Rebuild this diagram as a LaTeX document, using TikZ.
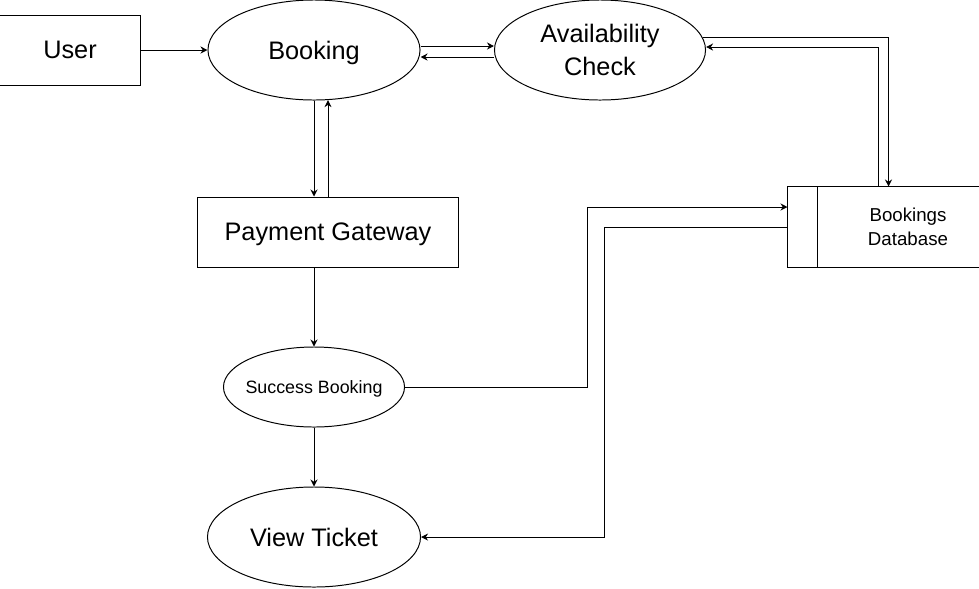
\documentclass[tikz,border=0pt]{standalone}
\usepackage{fontspec}
\setmainfont{Liberation Sans}
\usetikzlibrary{shapes.geometric,arrows.meta}

\begin{document}
\begin{tikzpicture}[x=0.025cm,y=-0.025cm,line width=0.7pt,->,>={Stealth[length=5pt,width=5pt]}]
  \tikzstyle{entity}=[rectangle,draw,inner sep=0pt,text depth=0pt,font=\fontsize{18}{23.5}\selectfont]
  \tikzstyle{process}=[ellipse,draw,inner sep=0pt,text depth=0pt,align=center,font=\fontsize{18}{23.5}\selectfont]
  \useasboundingbox (0,0) rectangle (979,588);

  \node[entity,minimum width=3.5cm,minimum height=1.75cm] (N_user) at (70,50) {User};
  \node[process,minimum width=5.3cm,minimum height=2.5cm] (N_booking) at (314,50) {Booking};
  \node[process,minimum width=5.275cm,minimum height=2.5cm] (N_avail) at (600,50) {Availability\\Check};
  \node[entity,minimum width=6.5cm,minimum height=1.75cm] (N_pay) at (328,232) {Payment Gateway};
  \node[process,inner xsep=-4pt,minimum width=4.525cm,minimum height=2cm,font=\fontsize{12.7}{15}\selectfont] (N_success) at (314,387) {Success Booking};
  \node[process,minimum width=5.325cm,minimum height=2.5cm] (N_view) at (314,537) {View Ticket};
  \node[rectangle,inner sep=0pt,minimum width=4.775cm,minimum height=2cm] (N_db) at (883.5,227) {};
  \node[align=center,font=\fontsize{13.3}{17}\selectfont] (N_dbtext) at (908,227) {Bookings\\Database};

  % data store outline
  \draw[-] (N_db.north east) -- (N_db.north west) -- (N_db.south west) -- (N_db.south east);
  \draw[-] ([xshift=0.75cm]N_db.north west) -- ([xshift=0.75cm]N_db.south west);

  \draw (N_user) -- (N_booking);
  \draw ([yshift=0.1cm]N_booking.east) -- ([yshift=0.1cm]N_avail.west);
  \draw ([yshift=-0.175cm]N_avail.west) -- ([yshift=-0.175cm]N_booking.east);
  \draw (N_avail.7) -| ([xshift=0.125cm]N_db.north);
  \draw ([xshift=-0.125cm]N_db.north) |- ([yshift=0.075cm]N_avail.east);
  \draw (N_booking.south) -- (N_booking.south |- N_pay.north);
  \draw (N_pay.north) -- ([yshift=0.01cm]N_pay.north |- N_booking.south);
  \draw (N_success.north |- N_pay.south) -- (N_success.north);
  \draw (N_success) -- (N_view);
  \draw (N_success.east) -| ([xshift=-5cm,yshift=0.5cm]N_db.west) -- ([yshift=0.5cm]N_db.west);
  \draw (N_db.west) -- ([xshift=-4.575cm]N_db.west) |- (N_view.east);
\end{tikzpicture}
\end{document}
